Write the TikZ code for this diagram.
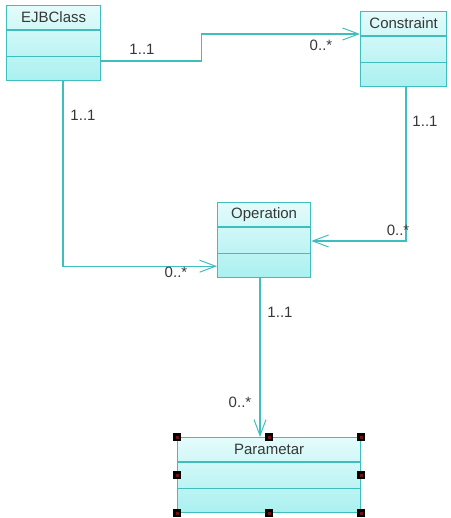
\documentclass[tikz,border=0pt]{standalone}
\usepackage{fontspec}
\setmainfont{Liberation Sans}
\usetikzlibrary{arrows.meta,calc,positioning}
\definecolor{umlteal}{RGB}{64,190,190}
\definecolor{umltop}{RGB}{228,251,251}
\definecolor{umlbot}{RGB}{170,240,240}
\definecolor{umltext}{RGB}{55,55,55}
\definecolor{handred}{RGB}{110,20,20}

\tikzset{
  umlclass/.style={draw=umlteal, line width=1.2pt, top color=umltop, bottom color=umlbot,
    minimum height=75pt, inner sep=0pt},
  umlline/.style={draw=umlteal, line width=1.2pt},
  assoc/.style={umlteal, line width=1.2pt, -{Straight Barb[length=16pt,width=12pt,line width=1pt]}},
  mult/.style={text=umltext, font=\fontsize{15}{17}\selectfont},
  title/.style={text=umltext, font=\fontsize{15}{17}\selectfont}
}

% class box: name, top left corner, width, title
\newcommand{\umlbox}[4]{
  \node[umlclass, minimum width=#3, anchor=north west] (#1) at (#2) {};
  \draw[umlline] ([yshift=-25pt]#1.north west) -- ([yshift=-25pt]#1.north east);
  \draw[umlline] ([yshift=25pt]#1.south west) -- ([yshift=25pt]#1.south east);
  \node[title] (#1-name) at ([yshift=-12.5pt]#1.north) {#4};
}

\begin{document}
\begin{tikzpicture}[x=1pt, y=-1pt]
        \useasboundingbox (0,0) rectangle (450,518);
        % Classes
        \umlbox{ejb}{6,5}{94pt}{EJBClass}
        \umlbox{con}{360,11}{86pt}{Constraint}
        \umlbox{op}{217,202}{93pt}{Operation}
        \umlbox{par}{177,437}{183pt}{Parametar}
        % Associations
        \draw[assoc] ([yshift=-56pt]ejb.north east) -- ++(100,0) |- ([yshift=-23pt]con.north west);
        \draw[assoc] ([xshift=57pt]ejb.south west) |- ([yshift=12pt]op.south west);
        \draw[assoc] ([xshift=46pt]con.south west) |- ([yshift=-39pt]op.north east);
        \draw[assoc] ([xshift=43pt]op.south west) -- ([xshift=43pt]op.south west |- par.north);
        % Multiplicities
        \node[mult] (m1) at (142,49) {1..1};
        \node[mult] (m2) at (321,45) {0..*};
        \node[mult] (m3) at (83,115) {1..1};
        \node[mult] (m4) at (176,272) {0..*};
        \node[mult] (m5) at (425,121) {1..1};
        \node[mult] (m6) at (398,230) {0..*};
        \node[mult] (m7) at (280,312) {1..1};
        \node[mult] (m8) at (240,402) {0..*};
        % Selection handles
        \foreach \a in {north west,north,north east,west,east,south west,south,south east}{
          \fill[black] ($(par.\a)+(-4,-4)$) rectangle ++(8,8);
          \fill[handred] ($(par.\a)+(-1.5,-1.5)$) rectangle ++(3,3);
        }
\end{tikzpicture}
\end{document}
